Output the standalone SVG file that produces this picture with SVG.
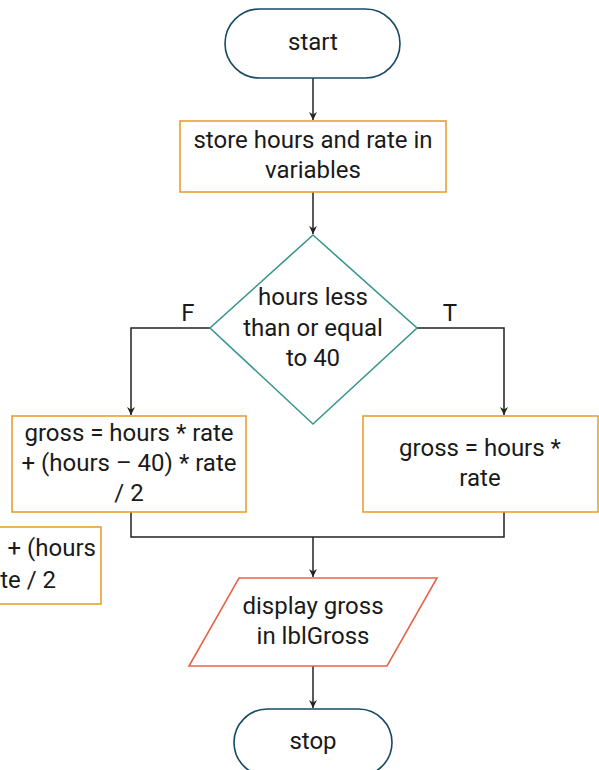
<svg xmlns="http://www.w3.org/2000/svg" width="599" height="770" viewBox="0 0 599 770">
<defs>
<style>
text{font-family:Roboto,"Liberation Sans",Arial,sans-serif;font-size:24px;fill:#1a1a1a;text-anchor:middle}
.term{fill:#fff;stroke:#174a63;stroke-width:1.6}
.proc{fill:#fff;stroke:#e8a030;stroke-width:1.6}
.dec{fill:#fff;stroke:#3a968c;stroke-width:1.6}
.io{fill:#fff;stroke:#e5654a;stroke-width:1.6}
.conn{fill:none;stroke:#222;stroke-width:1.5}
</style>
<marker id="arr" viewBox="0 0 10 10" refX="10" refY="5" markerWidth="8" markerHeight="10" markerUnits="userSpaceOnUse" orient="auto">
<path d="M0,0 L10,5 L0,10 L3,5 Z" fill="#222"/>
</marker>
</defs>
<g id="connectors">
<line class="conn" x1="313" y1="78" x2="313" y2="120" marker-end="url(#arr)"/>
<line class="conn" x1="313" y1="192" x2="313" y2="234" marker-end="url(#arr)"/>
<polyline class="conn" points="210,328 131,328 131,415" marker-end="url(#arr)"/>
<polyline class="conn" points="417,328 504,328 504,415" marker-end="url(#arr)"/>
<polyline class="conn" points="131,512 131,537 504,537 504,512"/>
<line class="conn" x1="313" y1="537" x2="313" y2="577" marker-end="url(#arr)"/>
<line class="conn" x1="313" y1="666" x2="313" y2="708" marker-end="url(#arr)"/>
<text x="188" y="321">F</text>
<text x="450" y="321">T</text>
</g>
<g id="start">
<rect class="term" x="225" y="9" width="175" height="69" rx="34.5"/>
<text x="313" y="50">start</text>
</g>
<g id="store">
<rect class="proc" x="180" y="121" width="266" height="71"/>
<text x="313" y="148">store hours and rate in</text>
<text x="313" y="178">variables</text>
</g>
<g id="decision">
<polygon class="dec" points="313,235 417,328 313,424 210,328"/>
<text x="313" y="305">hours less</text>
<text x="313" y="336">than or equal</text>
<text x="313" y="366">to 40</text>
</g>
<g id="grossF">
<rect class="proc" x="12" y="416" width="234" height="96"/>
<text x="129" y="441">gross = hours * rate</text>
<text x="129" y="471">+ (hours – 40) * rate</text>
<text x="129" y="501">/ 2</text>
</g>
<g id="partial">
<rect class="proc" x="-140" y="527" width="241" height="77"/>
<text x="96" y="556" style="text-anchor:end">+ (hours</text>
<text x="56" y="588" style="text-anchor:end">te / 2</text>
</g>
<g id="grossT">
<rect class="proc" x="363" y="416" width="235" height="96"/>
<text x="480" y="456">gross = hours *</text>
<text x="480" y="486">rate</text>
</g>
<g id="display">
<polygon class="io" points="239,578 437,578 387,666 189,666"/>
<text x="313" y="614">display gross</text>
<text x="313" y="644">in lblGross</text>
</g>
<g id="stop">
<rect class="term" x="234" y="709" width="158" height="67" rx="33.5"/>
<text x="313" y="749">stop</text>
</g>
</svg>
